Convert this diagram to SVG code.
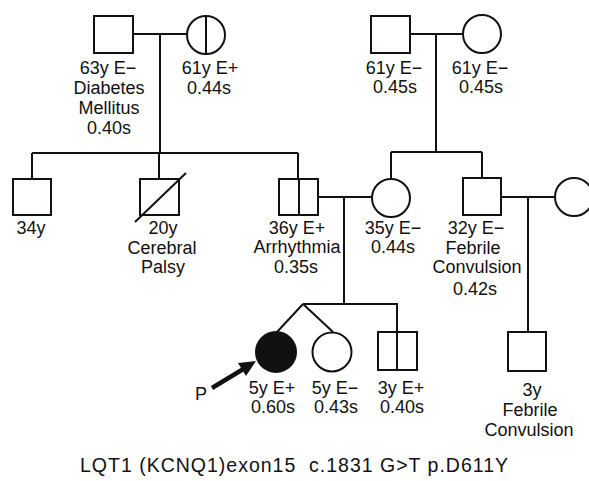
<svg xmlns="http://www.w3.org/2000/svg" width="589" height="481" viewBox="0 0 589 481">
<defs>
<style>
.s{fill:#fff;stroke:#111;stroke-width:2}
.f{fill:#111;stroke:#111;stroke-width:2}
.l{fill:none;stroke:#111;stroke-width:2}
text{font-family:"Liberation Sans",Arial,sans-serif;font-size:18px;fill:#111;text-anchor:middle}
.cap{font-size:19.5px;text-anchor:start;white-space:pre}
</style>
</defs>
<rect width="589" height="481" fill="#fff"/>
<g id="connectors" class="l">
<path class="l" d="M133,34 H187 M160,34 V153 M32,153 H298 M32,153 V179 M159,153 V179 M298,153 V179"/>
<path class="l" d="M410,34 H463 M436,34 V152 M391,152 H482 M391,152 V179 M482,152 V178"/>
<path class="l" d="M318,197 H372 M344,197 V304 M303,304 H397 V332 M303,304 L277,332 M303,304 L333,332"/>
<path class="l" d="M501,197 H555 M528,197 V332"/>
</g>
<g id="gf1"><rect class="s" x="94" y="16" width="39" height="37"/>
<text x="108" y="74">63y E−</text><text x="109" y="94">Diabetes</text><text x="109" y="114">Mellitus</text><text x="109" y="134">0.40s</text></g>
<g id="gm1"><circle class="s" cx="206" cy="35" r="19"/><line class="l" x1="206" y1="16" x2="206" y2="54"/>
<text x="210" y="74">61y E+</text><text x="209" y="94">0.44s</text></g>
<g id="gf2"><rect class="s" x="371" y="16" width="39" height="37"/>
<text x="394" y="74">61y E−</text><text x="395" y="93">0.45s</text></g>
<g id="gm2"><circle class="s" cx="482" cy="34" r="19"/>
<text x="480" y="74">61y E−</text><text x="481" y="93">0.45s</text></g>
<g id="s34"><rect class="s" x="13" y="179" width="38" height="36"/>
<text x="31" y="234">34y</text></g>
<g id="s20"><rect class="s" x="140" y="179" width="39" height="36"/><line class="l" x1="135" y1="222" x2="186" y2="173"/>
<text x="163" y="234">20y</text><text x="162" y="254">Cerebral</text><text x="163" y="273">Palsy</text></g>
<g id="f36"><rect class="s" x="279" y="179" width="39" height="36"/><line class="l" x1="299" y1="179" x2="299" y2="215"/>
<text x="297" y="234">36y E+</text><text x="297" y="253">Arrhythmia</text><text x="296" y="273">0.35s</text></g>
<g id="m35"><circle class="s" cx="391" cy="198" r="19"/>
<text x="393" y="234">35y E−</text><text x="393" y="253">0.44s</text></g>
<g id="m32"><rect class="s" x="463" y="178" width="38" height="37"/>
<text x="476" y="234">32y E−</text><text x="473" y="254">Febrile</text><text x="477" y="273">Convulsion</text><text x="475" y="295">0.42s</text></g>
<g id="w32"><circle class="s" cx="574" cy="197" r="19"/></g>
<g id="proband"><circle class="f" cx="276" cy="352" r="20"/>
<text x="272" y="394">5y E+</text><text x="273" y="413">0.60s</text></g>
<g id="twin"><circle class="s" cx="332" cy="352" r="19.5"/>
<text x="335" y="394">5y E−</text><text x="336" y="413">0.43s</text></g>
<g id="b3"><rect class="s" x="378" y="332" width="39" height="38"/><line class="l" x1="397" y1="332" x2="397" y2="370"/>
<text x="401" y="394">3y E+</text><text x="402" y="413">0.40s</text></g>
<g id="c3"><rect class="s" x="508" y="332" width="38" height="39"/>
<text x="532" y="396">3y</text><text x="530" y="416">Febrile</text><text x="529" y="436">Convulsion</text></g>
<g id="arrow"><line x1="212" y1="388" x2="245" y2="368" stroke="#111" stroke-width="4.5"/>
<polygon points="256,361 238,363 246,376" fill="#111"/>
<text x="201" y="400">P</text></g>
<text class="cap" x="80" y="472" textLength="428" lengthAdjust="spacing">LQT1 (KCNQ1)exon15  c.1831 G&gt;T p.D611Y</text>
</svg>
